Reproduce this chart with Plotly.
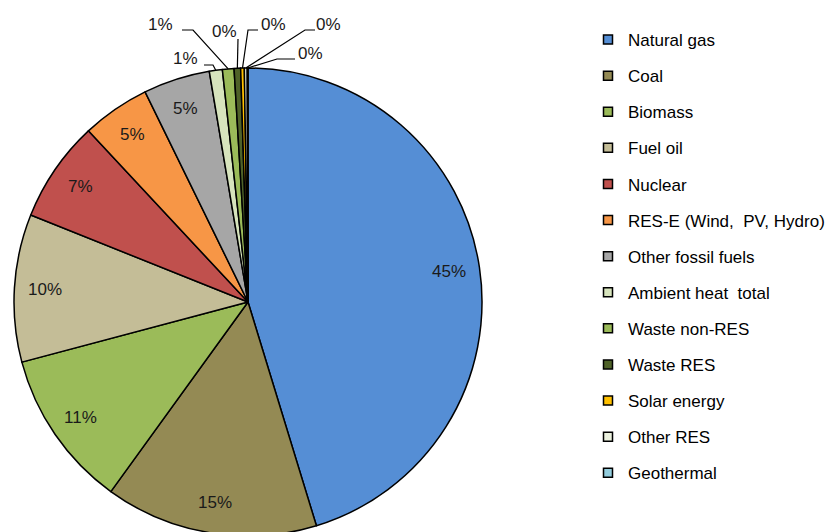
import math
import plotly.graph_objects as go

labels = ["Natural gas", "Coal", "Biomass", "Fuel oil", "Nuclear", "RES-E (Wind,  PV, Hydro)",
          "Other fossil fuels", "Ambient heat  total", "Waste non-RES", "Waste RES",
          "Solar energy", "Other RES", "Geothermal"]
values = [45.3, 14.7, 10.9, 10.2, 7.0, 4.7, 4.6, 0.9, 0.8, 0.45, 0.25, 0.2, 0.05]
colors = ["#558ED5", "#948A54", "#9BBB59", "#C4BD97", "#C0504D", "#F79646", "#A6A6A6",
          "#D7E4BD", "#9BBB59", "#4F6228", "#FFC000", "#EBF1DE", "#93CDDD"]

W, H = 839, 532
OFF = 8  # page body margin
CX, CY, R = 248, 302, 234  # screen pixels
FONT = "Liberation Sans, Arial, sans-serif"

# outside labels for the tiny slices: slice index -> (text x, text y, leader start x, y, elbow x)
small_labels = {
    7: (185, 59, 204, 65, 213),
    8: (160, 24, 182, 30, 193),
    9: (224, 31, 238, 39, 238),
    10: (273, 24, 258, 30, 248),
    11: (328, 24, 315, 30, 305),
    12: (310, 53, 295, 59, 277),
}


def px(x, y):
    return (x - OFF) / W, 1 - (y - OFF) / H


fig = go.Figure()

fig.add_trace(go.Pie(
    labels=labels,
    values=values,
    sort=False,
    direction="clockwise",
    rotation=0,
    textinfo="none",
    hoverinfo="label+percent",
    showlegend=False,
    marker=dict(colors=colors, line=dict(color="black", width=1.5)),
    domain=dict(x=[(CX - R - OFF) / W, (CX + R - OFF) / W],
                y=[1 - (CY + R - OFF) / H, 1 - (CY - R - OFF) / H]),
))

# legend entries (separate groups so the spacing can be opened up)
for lab, col in zip(labels, colors):
    fig.add_trace(go.Scatter(
        x=[None], y=[None], mode="markers", name=lab, legendgroup=lab,
        marker=dict(symbol="square", size=9, color=col, line=dict(color="black", width=1.5)),
    ))

total = sum(values)
annotations = []
shapes = []
start = 0.0
for i, v in enumerate(values):
    frac = v / total
    mid = (start + frac / 2) * 2 * math.pi
    start += frac
    pct = f"{round(frac * 100)}%"
    if i in small_labels:
        tx, ty, lx, ly, ex = small_labels[i]
        sx = CX + R * math.sin(mid)
        sy = CY - R * math.cos(mid)
        x0, y0 = px(lx, ly)
        x1, _ = px(ex, ly)
        x2, y2 = px(sx, sy)
        shapes.append(dict(type="path", xref="paper", yref="paper",
                           path=f"M {x0} {y0} L {x1} {y0} L {x2} {y2}",
                           line=dict(color="black", width=1.2)))
        ax, ay = px(tx, ty)
    else:
        r = 0.87 * R
        ax, ay = px(CX + r * math.sin(mid), CY - r * math.cos(mid))
    annotations.append(dict(x=ax, y=ay, xref="paper", yref="paper", text=pct,
                            xanchor="center", yanchor="middle", showarrow=False,
                            font=dict(size=17, color="#1a1a1a", family=FONT)))

lx, ly = px(588, 22)
fig.update_layout(
    width=W, height=H, autosize=False,
    margin=dict(l=0, r=0, t=0, b=0),
    paper_bgcolor="white", plot_bgcolor="white",
    xaxis=dict(visible=False), yaxis=dict(visible=False),
    annotations=annotations,
    shapes=shapes,
    showlegend=True,
    legend=dict(x=lx, y=ly, xanchor="left", yanchor="top",
                font=dict(size=17, color="black", family=FONT),
                tracegroupgap=11, bgcolor="rgba(0,0,0,0)"),
)

fig.write_html("out.html")
